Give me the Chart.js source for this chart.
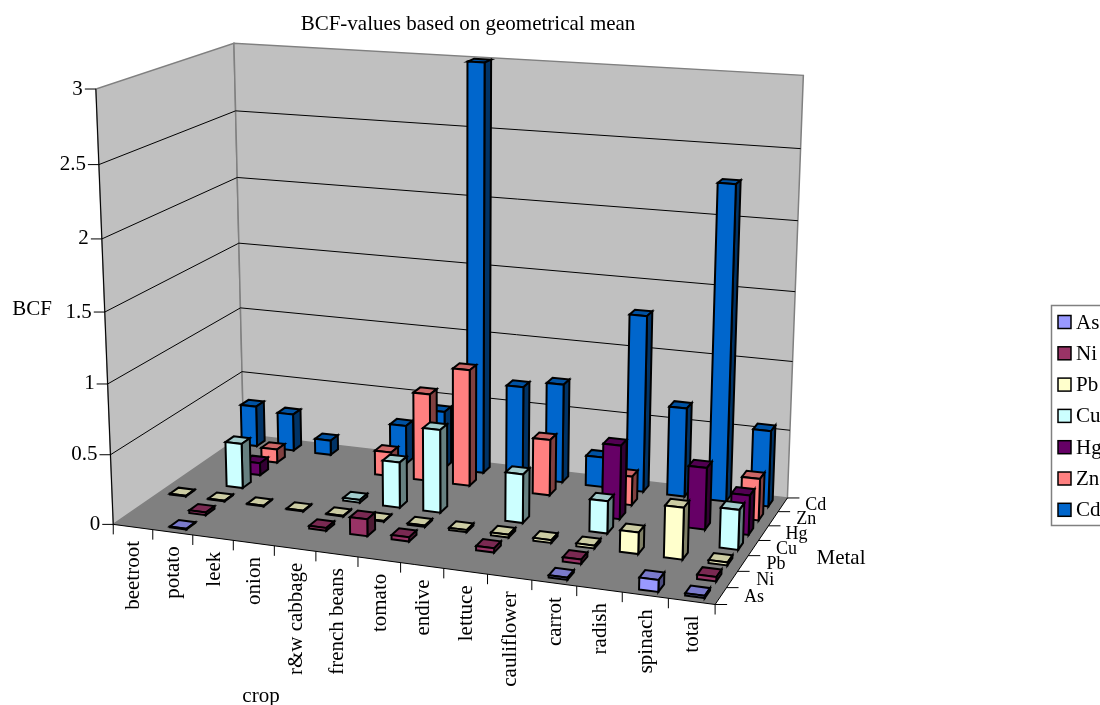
<!DOCTYPE html>
<html>
<head>
<meta charset="utf-8">
<title>BCF-values based on geometrical mean</title>
<script src="https://cdn.jsdelivr.net/npm/chart.js@4"></script>
<style>
  html, body { margin: 0; padding: 0; background: #fff; overflow: hidden; }
  canvas { display: block; }
</style>
</head>
<body>
<canvas id="chart" width="1100" height="705"></canvas>
<script>
const crops = ['beetroot', 'potato', 'leek', 'onion', 'r&w cabbage', 'french beans', 'tomato',
  'endive', 'lettuce', 'cauliflower', 'carrot', 'radish', 'spinach', 'total'];
const metals = ['As', 'Ni', 'Pb', 'Cu', 'Hg', 'Zn', 'Cd'];
const valueTicks = [0, 0.5, 1, 1.5, 2, 2.5, 3];

// null = no bar in the original
const asValues = [null, 0.005, null, null, null, null, null, null, null, null, 0.015, null, 0.08, 0.015];
const niValues = [null, 0.02, null, null, 0.02, 0.12, 0.03, null, 0.03, null, 0.03, null, null, 0.03];
const pbValues = [0.005, 0.005, 0.005, 0.005, 0.005, 0.005, 0.01, 0.015, 0.02, 0.02, 0.02, 0.15, 0.36, 0.02];
const cuValues = [null, 0.33, null, null, 0.02, 0.33, 0.6, null, 0.35, null, 0.23, null, null, 0.28];
const hgValues = [null, 0.09, null, null, null, null, null, null, null, null, 0.53, null, 0.44, 0.28];
const znValues = [null, 0.1, null, null, 0.18, 0.65, 0.86, null, 0.41, null, 0.21, null, null, 0.3];
const cdValues = [0.31, 0.28, 0.11, null, 0.29, 0.43, 3, 0.68, 0.73, 0.22, 1.29, 0.65, 2.27, 0.55];

const seriesValues = [asValues, niValues, pbValues, cuValues, hgValues, znValues, cdValues];
const frontColors = ['#9999FF', '#993366', '#FFFFCC', '#CCFFFF', '#660066', '#FF8080', '#0066CC'];
const topColors = ['#7A7ACC', '#7A2952', '#CCCCA3', '#A3CCCC', '#520052', '#CC6666', '#0052A3'];
const sideColors = ['#4D4D80', '#4D1A33', '#808066', '#668080', '#330033', '#804040', '#003366'];

// where the corners of the 3D box land on the page: crop 0..1, metal 0..1, value 0..1, x, y
const viewPoints = [
  [0, 0, 0, 114, 524], [1, 0, 0, 715, 605], [1, 1, 0, 788, 497], [0, 1, 0, 243, 435],
  [0, 0, 1, 96, 89], [0, 1, 1, 234, 43], [1, 1, 1, 803, 75],
  [0, 0, 0.5, 104, 312], [0, 1, 5 / 6, 236, 111], [1, 1, 5 / 6, 801, 149], [1, 1, 1 / 3, 792, 362]
];

function solveView(points) {
  const n = 11;
  const ata = Array.from({ length: n }, () => new Array(n + 1).fill(0));
  const addRow = (row, rhs) => {
    for (let i = 0; i < n; i++) {
      for (let j = 0; j < n; j++) ata[i][j] += row[i] * row[j];
      ata[i][n] += row[i] * rhs;
    }
  };
  points.forEach(([u, v, w, x, y]) => {
    addRow([u, v, w, 1, 0, 0, 0, 0, -x * u, -x * v, -x * w], x);
    addRow([0, 0, 0, 0, u, v, w, 1, -y * u, -y * v, -y * w], y);
  });
  for (let c = 0; c < n; c++) {
    let best = c;
    for (let r = c + 1; r < n; r++) if (Math.abs(ata[r][c]) > Math.abs(ata[best][c])) best = r;
    [ata[c], ata[best]] = [ata[best], ata[c]];
    for (let r = 0; r < n; r++) {
      if (r === c) continue;
      const f = ata[r][c] / ata[c][c];
      for (let k = c; k <= n; k++) ata[r][k] -= f * ata[c][k];
    }
  }
  return ata.map((row, i) => row[n] / row[i]);
}

const m = solveView(viewPoints);
function project(u, v, w) {
  const d = m[8] * u + m[9] * v + m[10] * w + 1;
  return [(m[0] * u + m[1] * v + m[2] * w + m[3]) / d, (m[4] * u + m[5] * v + m[6] * w + m[7]) / d];
}

const barWidth = 0.42;
const barDepth = 0.46;

const box3d = {
  id: 'box3d',
  beforeDatasetDraw() { return false; },
  beforeDatasetsDraw(chart) {
    const ctx = chart.ctx;
    const { x, y, metal } = chart.scales;
    const U = (i) => (x.getPixelForValue(i) - x.left) / x.width;
    const V = (j) => (metal.getPixelForValue(j) - metal.left) / metal.width;
    const W = (val) => (y.bottom - y.getPixelForValue(val)) / y.height;
    const P = (i, j, val) => project(U(i), V(j), W(val));

    const poly = (pts, fill, stroke, lw) => {
      ctx.beginPath();
      pts.forEach((p, k) => (k ? ctx.lineTo(p[0], p[1]) : ctx.moveTo(p[0], p[1])));
      ctx.closePath();
      if (fill) { ctx.fillStyle = fill; ctx.fill(); }
      if (stroke) { ctx.strokeStyle = stroke; ctx.lineWidth = lw; ctx.lineJoin = 'miter'; ctx.stroke(); }
    };
    const seg = (a, b, color, lw) => {
      ctx.beginPath();
      ctx.moveTo(a[0], a[1]);
      ctx.lineTo(b[0], b[1]);
      ctx.strokeStyle = color;
      ctx.lineWidth = lw;
      ctx.stroke();
    };
    const label = (text, px, py, size, align, rotate) => {
      ctx.save();
      ctx.translate(px, py);
      if (rotate) ctx.rotate(-Math.PI / 2);
      ctx.font = size + 'px "Liberation Serif"';
      ctx.fillStyle = '#000';
      ctx.textAlign = align;
      ctx.textBaseline = 'middle';
      ctx.fillText(text, 0, 0);
      ctx.restore();
    };

    const vMax = 3;
    const iLo = -0.5, iHi = crops.length - 0.5, jLo = -0.5, jHi = metals.length - 0.5;

    // walls and floor
    poly([P(iLo, jLo, 0), P(iLo, jHi, 0), P(iLo, jHi, vMax), P(iLo, jLo, vMax)], '#C0C0C0', '#808080', 1.5);
    poly([P(iLo, jHi, 0), P(iHi, jHi, 0), P(iHi, jHi, vMax), P(iLo, jHi, vMax)], '#C0C0C0', '#808080', 1.5);
    poly([P(iLo, jLo, 0), P(iHi, jLo, 0), P(iHi, jHi, 0), P(iLo, jHi, 0)], '#808080');

    // gridlines run along the left wall and then the back wall
    valueTicks.forEach((t) => {
      if (t === 0 || t === vMax) return;
      seg(P(iLo, jLo, t), P(iLo, jHi, t), '#000', 1);
      seg(P(iLo, jHi, t), P(iHi, jHi, t), '#000', 1);
    });

    // axis lines
    seg(P(iLo, jLo, 0), P(iLo, jLo, vMax), '#000', 1);
    seg(P(iLo, jLo, 0), P(iHi, jLo, 0), '#000', 1);
    seg(P(iHi, jLo, 0), P(iHi, jHi, 0), '#000', 1);

    // value axis ticks
    valueTicks.forEach((t) => {
      const p = P(iLo, jLo, t);
      seg(p, [p[0] - 11, p[1]], '#000', 1);
      label(String(t), p[0] - 13, p[1], 21, 'right');
    });

    // crop axis ticks and labels
    for (let i = 0; i <= crops.length; i++) {
      const p = P(i - 0.5, jLo, 0);
      seg(p, [p[0], p[1] + 10], '#000', 1);
    }
    crops.forEach((c, i) => {
      const p = P(i, jLo, 0);
      label(c, p[0] + 1, p[1] + 14, 21, 'right', true);
    });

    // metal axis ticks and labels
    for (let j = 0; j <= metals.length; j++) {
      const p = P(iHi, j - 0.5, 0);
      seg(p, [p[0] + 12, p[1]], '#000', 1);
    }
    metals.forEach((name, j) => {
      const p = P(iHi, j, 0);
      label(name, p[0] + 33, p[1] + 1, 18, 'center');
    });

    label('BCF', 32, 309, 21, 'center');
    label('crop', 261, 696, 21, 'center');
    label('Metal', 841, 558, 21, 'center');

    // bars, back row first so the front rows overlap them
    for (let j = metals.length - 1; j >= 0; j--) {
      seriesValues[j].forEach((val, i) => {
        if (val === null) return;
        const i0 = i - barWidth / 2, i1 = i + barWidth / 2;
        const j0 = j - barDepth / 2, j1 = j + barDepth / 2;
        poly([P(i0, j0, val), P(i1, j0, val), P(i1, j1, val), P(i0, j1, val)], topColors[j], '#000', 2);
        poly([P(i1, j0, 0), P(i1, j1, 0), P(i1, j1, val), P(i1, j0, val)], sideColors[j], '#000', 2);
        poly([P(i0, j0, 0), P(i1, j0, 0), P(i1, j0, val), P(i0, j0, val)], frontColors[j], '#000', 2);
      });
    }

    // legend box, runs past the right edge of the page like the original
    poly([[1051.5, 305.5], [1120, 305.5], [1120, 525.5], [1051.5, 525.5]], '#fff', '#808080', 1.5);
    metals.forEach((name, j) => {
      const cy = 322 + j * 31.3;
      ctx.fillStyle = frontColors[j];
      ctx.fillRect(1058, cy - 6.5, 13, 13);
      ctx.strokeStyle = '#000';
      ctx.lineWidth = 1.5;
      ctx.strokeRect(1058, cy - 6.5, 13, 13);
      label(name, 1076, cy + 1, 21, 'left');
    });
  }
};

new Chart(document.getElementById('chart'), {
  type: 'bar',
  data: {
    labels: crops,
    datasets: metals.map((name, j) => ({ label: name, data: seriesValues[j], backgroundColor: frontColors[j] }))
  },
  options: {
    responsive: false,
    animation: false,
    layout: { padding: { right: 164, top: 12 } },
    plugins: {
      legend: { display: false },
      tooltip: { enabled: false },
      title: {
        display: true,
        text: 'BCF-values based on geometrical mean',
        color: '#000',
        font: { family: '"Liberation Serif"', size: 21, weight: 'normal' },
        padding: 0
      }
    },
    scales: {
      x: { type: 'category', display: false, offset: true },
      y: { type: 'linear', display: false, min: 0, max: 3 },
      metal: { type: 'category', axis: 'x', labels: metals, display: false, offset: true }
    }
  },
  plugins: [box3d]
});
</script>
</body>
</html>
